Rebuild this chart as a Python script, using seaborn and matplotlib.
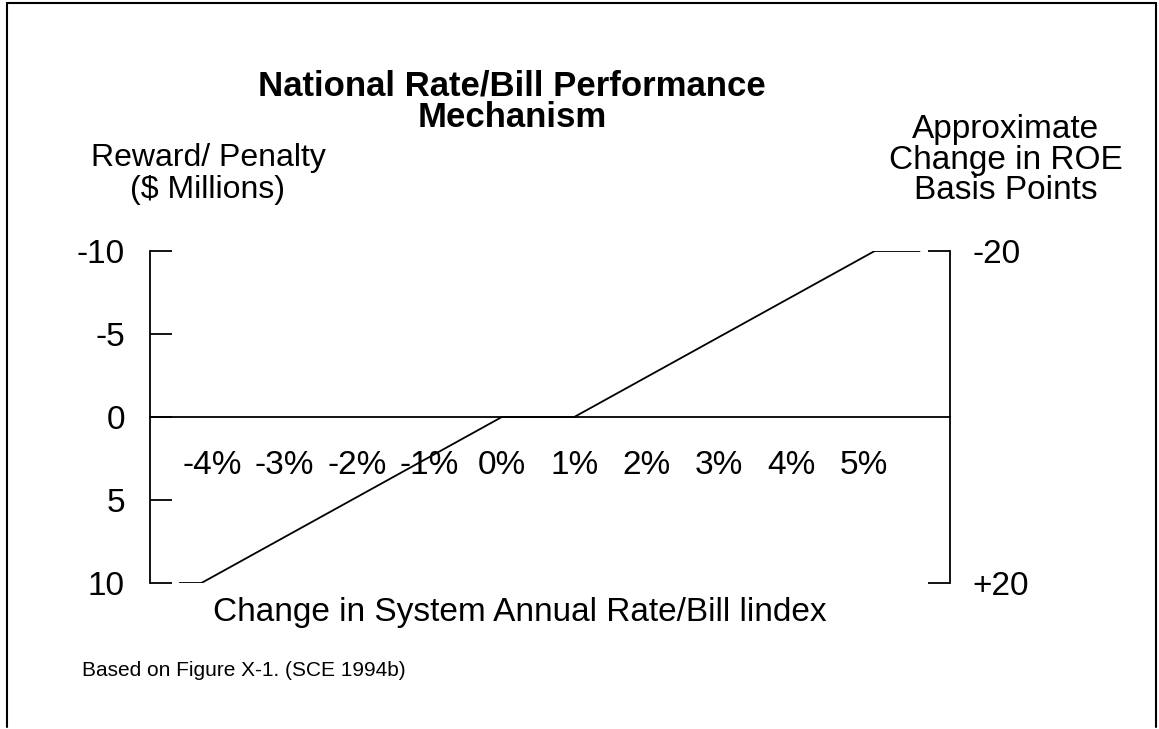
import matplotlib
matplotlib.use("Agg")
import matplotlib.pyplot as plt
import seaborn as sns
import pandas as pd

# Data
rate_change = [-4.45, -4.15, 0.0, 1.0, 5.15, 5.77]   # % change in rate/bill index
reward_penalty = [10, 10, 0, 0, -10, -10]            # $ millions
x_ticks = [-4, -3, -2, -1, 0, 1, 2, 3, 4, 5]
x_tick_labels = ["-4%", "-3%", "-2%", "-1%", "0%", "1%", "2%", "3%", "4%", "5%"]
y_ticks = [-10, -5, 0, 5, 10]
roe_ticks = [-20, 20]
roe_tick_labels = ["-20", "+20"]

df = pd.DataFrame({"change": rate_change, "reward": reward_penalty})

sns.set_style("white")
plt.rcParams["font.family"] = ["Liberation Sans", "DejaVu Sans"]
plt.rcParams["text.color"] = "black"

W, H = 1159, 729
fig = plt.figure(figsize=(W / 100, H / 100), dpi=100)


def fx(x):
    return x / W


def fy(y):
    return 1 - y / H


# main axes: left spine at x=150px, y from 251px (-10) to 583px (10)
ax = fig.add_axes([fx(150), fy(583), fx(950) - fx(150), fy(251) - fy(583)])
sns.lineplot(data=df, x="change", y="reward", ax=ax, color="black", lw=1.3,
             sort=False)
ax.set_xlim(-4.86, 6.19)
ax.set_ylim(10, -10)

for s in ["top", "right"]:
    ax.spines[s].set_visible(False)
ax.spines["bottom"].set_position(("data", 0))
ax.spines["left"].set_linewidth(1.3)
ax.spines["bottom"].set_linewidth(1.3)
ax.spines["left"].set_color("black")
ax.spines["bottom"].set_color("black")

ax.set_xticks(x_ticks)
ax.set_xticklabels(x_tick_labels)
ax.set_yticks(y_ticks)
ax.set_yticklabels([str(v) for v in y_ticks])
ax.tick_params(axis="x", direction="inout", length=30, width=1.3, pad=9,
               labelsize=24, colors="black")
ax.tick_params(axis="y", direction="in", length=16, width=1.3, pad=18,
               labelsize=24, colors="black")
ax.set_xlabel("")
ax.set_ylabel("")

# right axis for ROE basis points
ax2 = ax.twinx()
ax2.set_ylim(20, -20)
for s in ["top", "left", "bottom"]:
    ax2.spines[s].set_visible(False)
ax2.spines["right"].set_linewidth(1.3)
ax2.spines["right"].set_color("black")
ax2.set_yticks(roe_ticks)
ax2.set_yticklabels(roe_tick_labels)
ax2.tick_params(axis="y", direction="in", length=16, width=1.3, pad=16,
                labelsize=24, colors="black")

# texts
fig.text(fx(512), fy(102), "National Rate/Bill Performance\nMechanism",
         ha="center", va="center", fontsize=25, fontweight="bold",
         linespacing=0.95)
fig.text(fx(208), fy(174), "Reward/ Penalty\n($ Millions)", ha="center",
         va="center", fontsize=23, linespacing=1.05)
fig.text(fx(1006), fy(160), "Approximate\nChange in ROE\nBasis Points",
         ha="center", va="center", fontsize=24, linespacing=0.98)
fig.text(fx(520), fy(612), "Change in System Annual Rate/Bill lindex",
         ha="center", va="center", fontsize=24)
fig.text(fx(82), fy(670), "Based on Figure X-1. (SCE 1994b)", ha="left",
         va="center", fontsize=15)

# frame around the figure (left, top, right)
fig.add_artist(plt.Line2D([fx(7), fx(7)], [fy(727), fy(3)], color="black",
                          lw=1.5, transform=fig.transFigure))
fig.add_artist(plt.Line2D([fx(7), fx(1156)], [fy(3), fy(3)], color="black",
                          lw=1.5, transform=fig.transFigure))
fig.add_artist(plt.Line2D([fx(1156), fx(1156)], [fy(3), fy(727)],
                          color="black", lw=1.5, transform=fig.transFigure))

fig.savefig("out.png", dpi=100)
